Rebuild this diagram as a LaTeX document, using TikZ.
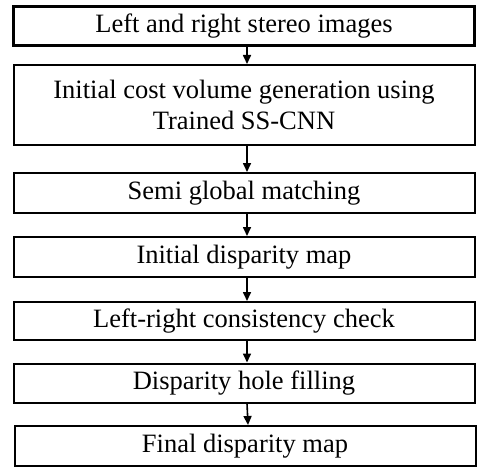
\documentclass[tikz,border=0pt]{standalone}
\usepackage{fontspec}
\setmainfont{Liberation Serif}
\usetikzlibrary{arrows.meta}
\begin{document}
\begin{tikzpicture}[x=1pt,y=-1pt,
  box/.style={draw=black, line width=2pt, minimum width=461pt, inner sep=0pt, align=center,
    font=\fontsize{26.5}{31}\selectfont},
  flow/.style={-{Triangle[length=9pt,width=8pt]}, line width=1.6pt}]
\useasboundingbox (0,0) rectangle (478,468);
\node[box, minimum height=39pt, line width=2.4pt] (b1) at (244,26) {Left and right stereo images};
\node[box, minimum height=80pt] (b2) at (244,105) {Initial cost volume generation using\\Trained SS-CNN};
\node[box, minimum height=40pt] (b3) at (244,193) {Semi global matching};
\node[box, minimum height=40pt] (b4) at (244,257) {Initial disparity map};
\node[box, minimum height=38pt] (b5) at (244,321) {Left-right consistency check};
\node[box, minimum height=39pt] (b6) at (244,383) {Disparity hole filling};
\node[box, minimum height=40pt] (b7) at (245,446) {Final disparity map};
\foreach \a/\b in {b1/b2,b2/b3,b3/b4,b4/b5,b5/b6,b6/b7}
  \draw[flow] ([xshift=3pt]\a.south) -- ([xshift=3pt]\b.north);
\end{tikzpicture}
\end{document}
